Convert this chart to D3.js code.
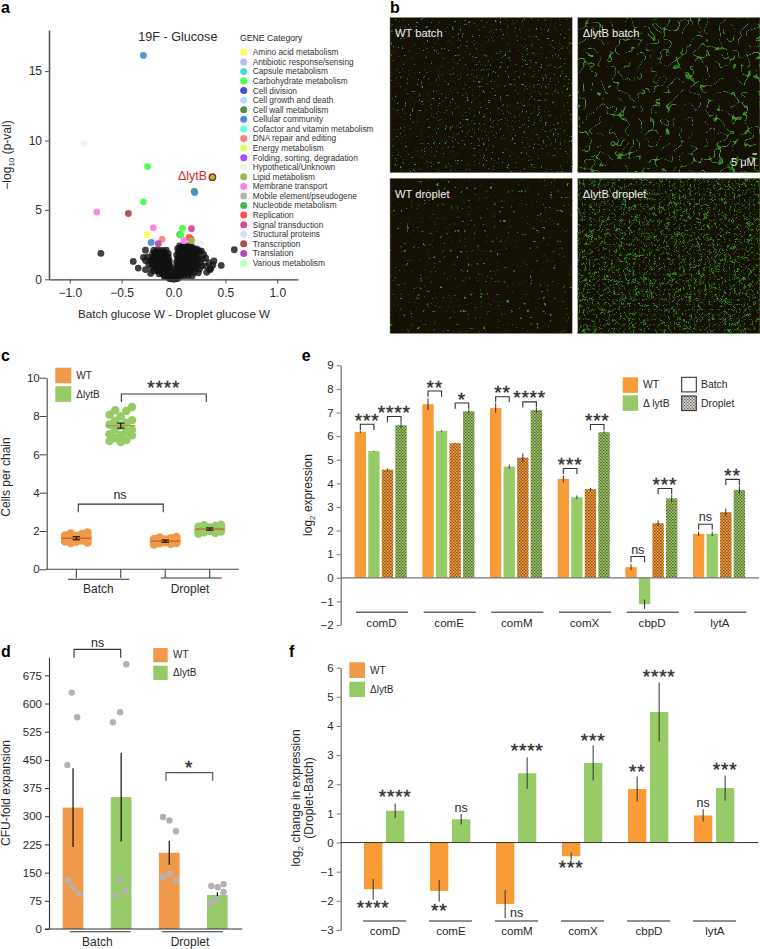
<!DOCTYPE html>
<html lang="en">
  <head>
    <meta charset="UTF-8" />
    <title>Droplet culture of WT and lytB pneumococcus</title>
    <script src="https://d3js.org/d3.v7.min.js"></script>
    <style>
      html, body { margin: 0; padding: 0; background: #fff; }
      svg { display: block; }
      text { font-family: "Liberation Sans", Arial, sans-serif; fill: #2a2a2a; }
      .panel { font-size: 16px; font-weight: bold; fill: #000; }
      .tick text { font-size: 11.5px; fill: #2a2a2a; }
    </style>
  </head>
  <body>
    <svg id="fig" width="760" height="949"></svg>

    <script>
      const ORANGE = "#f0994a";
      const BRIGHT = "#f99b36";
      const GREEN = "#97cb67";

      // panel a
      const categoryNames = ["Amino acid metabolism", "Antibiotic response/sensing", "Capsule metabolism", "Carbohydrate metabolism", "Cell division", "Cell growth and death", "Cell wall metabolism", "Cellular community", "Cofactor and vitamin metabolism", "DNA repair and editing", "Energy metabolism", "Folding, sorting, degradation", "Hypothetical/Unknown", "Lipid metabolism", "Membrane transport", "Mobile element/pseudogene", "Nucleotide metabolism", "Replication", "Signal transduction", "Structural proteins", "Transcription", "Translation", "Various metabolism"];
      const categoryColors = ["#ffff4d", "#b9b9f5", "#4fd8d8", "#4dfb4d", "#4a4ad6", "#b8dcff", "#4f8f4f", "#4a8fd8", "#5cffdf", "#ff8080", "#d9ff66", "#a64dff", "#f0f2f2", "#9ab84d", "#ff80e6", "#b4b4b4", "#4db34d", "#ff4d4d", "#d14d99", "#dcdcfa", "#ad4d4d", "#b34db3", "#b8ffb8"];
      // [diff, -log10 p, category]
      const geneHits = [
        [-0.29, 16.13, "Cellular community"], [-0.865, 9.78, "Hypothetical/Unknown"],
        [-0.25, 8.12, "Carbohydrate metabolism"], [0.2, 6.33, "Cell wall metabolism"],
        [0.205, 6.25, "Cellular community"], [-0.29, 5.58, "Carbohydrate metabolism"],
        [-0.74, 4.84, "Membrane transport"], [-0.435, 4.74, "Transcription"],
        [-0.195, 3.71, "Membrane transport"], [-0.256, 3.21, "Amino acid metabolism"],
        [-0.18, 2.78, "Hypothetical/Unknown"], [-0.215, 2.66, "Cellular community"],
        [-0.11, 2.88, "DNA repair and editing"], [-0.147, 2.56, "Translation"],
        [0.22, 2.7, "Hypothetical/Unknown"], [0.26, 2.59, "Hypothetical/Unknown"],
        [0.087, 3.67, "Carbohydrate metabolism"], [0.173, 3.64, "Signal transduction"],
        [0.06, 3.23, "Nucleotide metabolism"], [0.07, 3.2, "Carbohydrate metabolism"],
        [0.15, 3.02, "Replication"], [0.17, 2.9, "Replication"],
        [0.1, 2.78, "Membrane transport"], [0.173, 2.78, "Lipid metabolism"]
      ];
      const lytbPoint = [0.375, 7.36];
      const otherGenes = [
        [-0.7, 1.87], [0.586, 2.13], [0.46, 1.0], [0.39, 1.32], [0.38, 1.03], [-0.388, 1.29], [-0.34, 0.81],
        [-0.27, 2.1], [-0.19, 2.1], [-0.15, 2.12], [-0.11, 2.08], [-0.07, 2.1],
        [-0.2, 1.85], [-0.16, 1.87], [-0.12, 1.83], [-0.08, 1.86], [-0.05, 1.84],
        [-0.29, 1.58], [-0.25, 1.62], [-0.2, 1.6], [-0.16, 1.58], [-0.12, 1.62], [-0.09, 1.6], [-0.05, 1.57],
        [-0.27, 1.35], [-0.22, 1.33], [-0.18, 1.37], [-0.14, 1.35], [-0.1, 1.33], [-0.06, 1.36], [-0.04, 1.34],
        [-0.24, 1.1], [-0.19, 1.12], [-0.15, 1.08], [-0.11, 1.1], [-0.07, 1.12], [-0.04, 1.09],
        [-0.21, 0.85], [-0.17, 0.87], [-0.13, 0.83], [-0.09, 0.85], [-0.05, 0.86], [-0.03, 0.84],
        [-0.27, 0.7], [-0.19, 0.6], [-0.15, 0.62], [-0.11, 0.58], [-0.07, 0.6], [-0.04, 0.61], [-0.02, 0.59],
        [-0.22, 0.42], [-0.14, 0.4], [-0.1, 0.38], [-0.06, 0.4], [-0.03, 0.41],
        [-0.09, 0.2], [-0.06, 0.22], [-0.03, 0.18], [-0.01, 0.2],
        [-0.04, 0.05], [-0.02, 0.04], [0, 0.03], [0.02, 0.04], [0.04, 0.05],
        [0.06, 2.4], [0.1, 2.38], [0.14, 2.41], [0.18, 2.39],
        [0.04, 2.2], [0.07, 2.22], [0.11, 2.18], [0.15, 2.2], [0.19, 2.21], [0.23, 2.19], [0.27, 2.03],
        [0.05, 2.0], [0.09, 1.98], [0.13, 2.02], [0.17, 2.0], [0.21, 1.97], [0.25, 2.01], [0.29, 1.8],
        [0.03, 1.75], [0.07, 1.77], [0.11, 1.73], [0.15, 1.75], [0.19, 1.76], [0.23, 1.74], [0.31, 1.55],
        [0.04, 1.5], [0.08, 1.52], [0.12, 1.48], [0.16, 1.5], [0.2, 1.51], [0.24, 1.49], [0.28, 1.47], [0.34, 1.2],
        [0.03, 1.25], [0.06, 1.27], [0.1, 1.23], [0.14, 1.25], [0.18, 1.26], [0.22, 1.24], [0.26, 1.22],
        [0.03, 1.0], [0.07, 1.02], [0.11, 0.98], [0.15, 1.0], [0.19, 1.01], [0.23, 0.99], [0.27, 0.97], [0.31, 0.95],
        [0.02, 0.75], [0.05, 0.77], [0.09, 0.73], [0.13, 0.75], [0.17, 0.76], [0.21, 0.74], [0.25, 0.72], [0.36, 0.77],
        [0.02, 0.5], [0.05, 0.52], [0.08, 0.48], [0.12, 0.5], [0.16, 0.51], [0.2, 0.49], [0.24, 0.47], [0.32, 0.5], [0.35, 0.68],
        [0.01, 0.25], [0.04, 0.27], [0.07, 0.23], [0.1, 0.25], [0.14, 0.26], [0.18, 0.24],
        [-0.17, 1.97], [-0.13, 1.97], [-0.09, 1.97], [-0.18, 1.72], [-0.14, 1.73], [-0.1, 1.72], [-0.07, 1.71],
        [-0.2, 1.47], [-0.16, 1.48], [-0.12, 1.47], [-0.08, 1.46], [-0.21, 1.22], [-0.17, 1.23], [-0.13, 1.22], [-0.09, 1.21], [-0.05, 1.22],
        [-0.19, 0.98], [-0.15, 0.97], [-0.11, 0.98], [-0.07, 0.99], [-0.04, 0.97], [-0.16, 0.73], [-0.12, 0.72], [-0.08, 0.73], [-0.05, 0.72],
        [-0.12, 0.5], [-0.08, 0.5], [-0.05, 0.5], [-0.05, 0.31], [-0.08, 0.3], [-0.02, 0.3],
        [0.08, 2.3], [0.12, 2.3], [0.16, 2.3], [0.06, 2.1], [0.1, 2.1], [0.14, 2.1], [0.18, 2.1], [0.22, 2.1],
        [0.05, 1.87], [0.09, 1.87], [0.13, 1.87], [0.17, 1.87], [0.21, 1.87], [0.06, 1.62], [0.1, 1.62], [0.14, 1.62], [0.18, 1.62], [0.22, 1.62],
        [0.05, 1.37], [0.09, 1.37], [0.13, 1.37], [0.17, 1.37], [0.21, 1.37], [0.05, 1.12], [0.09, 1.12], [0.13, 1.12], [0.17, 1.12], [0.21, 1.12],
        [0.04, 0.87], [0.08, 0.87], [0.12, 0.87], [0.16, 0.87], [0.2, 0.87], [0.04, 0.62], [0.08, 0.62], [0.12, 0.62], [0.16, 0.62],
        [0.03, 0.38], [0.06, 0.38], [0.1, 0.38], [0.14, 0.38]
      ];
      const volcanoXTicks = [-1, -0.5, 0, 0.5, 1];
      const volcanoYTicks = [0, 5, 10, 15];

      // panel b
      const micrographs = ["WT batch", "\u0394lytB batch", "WT droplet", "\u0394lytB droplet"];

      // panel c
      const chainGroups = ["WT batch", "lytB batch", "WT droplet", "lytB droplet"];
      const chainWtBatch = [1.92, 1.86, 1.84, 1.76, 1.74, 1.7, 1.66, 1.64, 1.62, 1.6, 1.56, 1.54, 1.5, 1.46, 1.44, 1.4, 1.38];
      const chainLytbBatch = [8.47, 8.3, 8.27, 8.07, 7.98, 7.78, 7.75, 7.65, 7.55, 7.5, 7.3, 7.3, 7.2, 7.05, 7.0, 7.0, 6.85, 6.75, 6.7, 6.65];
      const chainWtDroplet = [1.68, 1.66, 1.62, 1.58, 1.55, 1.52, 1.48, 1.46, 1.44, 1.42, 1.38, 1.36, 1.33, 1.3];
      const chainLytbDroplet = [2.32, 2.3, 2.26, 2.22, 2.18, 2.14, 2.1, 2.08, 2.04, 2.0, 1.97, 1.94, 1.9, 1.86];
      const chainMeans = [1.62, 7.5, 1.47, 2.1];
      const chainErrors = [0.08, 0.13, 0.06, 0.06];
      const chainTicks = [0, 2, 4, 6, 8, 10];

      // panel d
      const cfuGroups = ["WT batch", "lytB batch", "WT droplet", "lytB droplet"];
      const cfuMeans = [323, 351, 203, 90.5];
      const cfuErrors = [105, 118, 32, 7];
      const cfuWtBatch = [629, 563.6, 436.7, 129.6, 111.8, 93.2];
      const cfuLytbBatch = [704.7, 577, 550, 130.5, 102, 89.6];
      const cfuWtDroplet = [298, 289, 260, 147, 137, 129];
      const cfuLytbDroplet = [114.5, 111, 119, 98.5, 79, 70];
      // sideways scatter of the six replicates, as share of the bar width
      const cfuScatter = [
        [-0.13, 0.4, -0.55, -0.5, 0, 0.6],
        [0.5, -0.1, -0.8, -0.07, 0.5, -0.5],
        [-0.6, 0.02, 0.65, 0.02, -0.62, 0.65],
        [-0.58, 0.03, 0.6, 0.6, 0, -0.62]
      ];
      const cfuTicks = [0, 75, 150, 225, 300, 375, 450, 525, 600, 675];

      // panel e
      const genes = ["comD", "comE", "comM", "comX", "cbpD", "lytA"];
      const wtBatch = [6.18, 7.35, 7.19, 4.19, 0.45, 1.86];
      const lytbBatch = [5.36, 6.22, 4.71, 3.41, -1.12, 1.86];
      const wtDroplet = [4.58, 5.7, 5.09, 3.75, 2.31, 2.78];
      const lytbDroplet = [6.46, 7.05, 7.1, 6.16, 3.36, 3.72];
      const wtBatchErr = [0.05, 0.25, 0.2, 0.15, 0.13, 0.1];
      const lytbBatchErr = [0.02, 0.03, 0.08, 0.08, 0.2, 0.1];
      const wtDropletErr = [0.04, 0.02, 0.18, 0.06, 0.12, 0.15];
      const lytbDropletErr = [0.12, 0.08, 0.1, 0.05, 0.15, 0.18];
      // [gene, first bar of the pair, height, mark]
      const exprBrackets = [
        ["comD", 0, 6.5, "***"], ["comD", 2, 6.83, "****"],
        ["comE", 0, 7.91, "**"], ["comE", 2, 7.4, "*"],
        ["comM", 0, 7.67, "**"], ["comM", 2, 7.45, "****"],
        ["comX", 0, 4.63, "***"], ["comX", 2, 6.49, "***"],
        ["cbpD", 0, 0.9, "ns"], ["cbpD", 2, 3.78, "***"],
        ["lytA", 0, 2.27, "ns"], ["lytA", 2, 4.17, "**"]
      ];
      const exprTicks = [-2, -1, 0, 1, 2, 3, 4, 5, 6, 7, 8, 9];

      // panel f
      const changeWt = [-1.6, -1.66, -2.11, -0.47, 1.84, 0.93];
      const changeLytb = [1.09, 0.8, 2.38, 2.73, 4.48, 1.87];
      const changeWtErr = [0.355, 0.37, 0.48, 0.13, 0.43, 0.21];
      const changeLytbErr = [0.25, 0.18, 0.54, 0.6, 1.01, 0.43];
      const changeWtMarks = ["****", "**", "ns", "***", "**", "ns"];
      const changeLytbMarks = ["****", "ns", "****", "***", "****", "***"];
      const changeWtMarkY = [-2.1, -2.21, -2.55, -0.72, 2.59, 1.23];
      const changeLytbMarkY = [1.71, 1.05, 3.29, 3.64, 5.83, 2.66];
      const changeTicks = [-3, -2, -1, 0, 1, 2, 3, 4, 5, 6];

      const svg = d3.select("#fig");
      const defs = svg.append("defs");

      // dotted fill of the droplet bars
      const dots = defs.append("pattern").attr("id", "dots")
        .attr("width", 3).attr("height", 3).attr("patternUnits", "userSpaceOnUse");
      dots.append("rect").attr("x", 0).attr("y", 0).attr("width", 1.5).attr("height", 1.2).attr("fill", "#3a2a14").attr("opacity", 0.7);
      dots.append("rect").attr("x", 1.5).attr("y", 1.5).attr("width", 1.5).attr("height", 1.2).attr("fill", "#3a2a14").attr("opacity", 0.7);

      function label(x, y, str, size, anchor, color) {
        return svg.append("text").attr("x", x).attr("y", y)
          .attr("text-anchor", anchor || "start")
          .style("font-size", size + "px")
          .style("fill", color || "#2a2a2a")
          .text(str);
      }

      function panelLetter(x, y, str) {
        svg.append("text").attr("class", "panel").attr("x", x).attr("y", y).text(str);
      }

      // star marks sit high in the font, so y here is the middle of the stars
      function stars(x, y, str) {
        if (str === "ns") return label(x, y + 4, str, 12.5, "middle");
        return label(x, y + 10.5, str, 19, "middle")
          .style("letter-spacing", "0.8px")
          .style("stroke", "#2a2a2a").style("stroke-width", "0.35px");
      }

      function styleAxis(g, color, width) {
        g.select(".domain").attr("stroke", color).attr("stroke-width", width);
        g.selectAll(".tick line").attr("stroke", color).attr("stroke-width", 1);
      }

      function leftAxis(x, scale, ticks, color, width, fmt) {
        const g = svg.append("g").attr("transform", `translate(${x},0)`)
          .call(d3.axisLeft(scale).tickValues(ticks).tickSize(4).tickSizeOuter(0).tickFormat(fmt || d3.format("d")));
        styleAxis(g, color, width);
        g.selectAll(".tick text").attr("x", -7);
        return g;
      }

      function hline(x1, x2, y, color, width) {
        svg.append("line").attr("x1", x1).attr("x2", x2).attr("y1", y).attr("y2", y)
          .attr("stroke", color).attr("stroke-width", width);
      }

      function vline(x, y1, y2, color, width) {
        svg.append("line").attr("x1", x).attr("x2", x).attr("y1", y1).attr("y2", y2)
          .attr("stroke", color).attr("stroke-width", width);
      }

      function bracket(x1, x2, y, drop, color) {
        svg.append("path").attr("d", `M${x1},${y + drop}V${y}H${x2}V${y + drop}`)
          .attr("fill", "none").attr("stroke", color || "#333").attr("stroke-width", 1.1);
      }

      function swatch(x, y, w, h, fill) {
        return svg.append("rect").attr("x", x).attr("y", y).attr("width", w).attr("height", h).attr("fill", fill);
      }

      function rotated(x, y, parts) {
        // parts: [text, isSubscript]
        const t = svg.append("text").attr("transform", `translate(${x},${y}) rotate(-90)`)
          .attr("text-anchor", "middle").style("font-size", "12px");
        parts.forEach(([s, sub]) => {
          const span = t.append("tspan").text(s);
          if (sub) span.style("font-size", "8px").attr("dy", 3);
          else if (t.selectAll("tspan").size() > 1) span.attr("dy", -3);
        });
      }

      /* ---------- a: volcano ---------- */
      panelLetter(1, 13, "a");
      const xA = d3.scaleLinear().domain([-1.2, 1.2]).range([49, 298]);
      const yA = d3.scaleLinear().domain([0, 17.96]).range([279.3, 30]);
      const colorA = d3.scaleOrdinal().domain(categoryNames).range(categoryColors);

      svg.append("g").selectAll("circle").data(otherGenes).enter().append("circle")
        .attr("cx", (d) => xA(d[0])).attr("cy", (d) => yA(d[1])).attr("r", 3.4)
        .attr("fill", "#111").attr("opacity", 0.8);
      svg.append("g").selectAll("circle").data(geneHits).enter().append("circle")
        .attr("cx", (d) => xA(d[0])).attr("cy", (d) => yA(d[1])).attr("r", 3.4)
        .attr("fill", (d) => colorA(d[2])).attr("opacity", 0.95);
      svg.append("circle").attr("cx", xA(lytbPoint[0])).attr("cy", yA(lytbPoint[1])).attr("r", 3.2)
        .attr("fill", "#7fd13f").attr("stroke", "#b5171b").attr("stroke-width", 1.4);

      const axA = svg.append("g").attr("transform", "translate(0,279.3)")
        .call(d3.axisBottom(xA).tickValues(volcanoXTicks).tickSize(4).tickSizeOuter(0).tickFormat(d3.format(".1f")));
      styleAxis(axA, "#444", 1.2);
      axA.selectAll(".tick text").style("font-size", "12px").attr("y", 9);
      const ayA = leftAxis(49, yA, volcanoYTicks, "#555", 1.6);
      ayA.selectAll(".tick text").style("font-size", "12px");

      label(138.3, 40.7, "19F - Glucose", 12.6);
      label(178, 180, "\u0394lytB", 12.4, "start", "#d62a2c");
      label(174, 317.7, "Batch glucose W - Droplet glucose W", 11.6, "middle");
      rotated(11, 155, [["\u2212log", false], ["10", true], [" (p-val)", false]]);

      label(240, 40.7, "GENE Category", 8.7);
      const rowA = d3.scalePoint().domain(categoryNames).range([52.3, 263]);
      svg.append("g").selectAll("circle").data(categoryNames).enter().append("circle")
        .attr("cx", 243.7).attr("cy", (d) => rowA(d)).attr("r", 3.5).attr("fill", (d) => colorA(d));
      svg.append("g").selectAll("text").data(categoryNames).enter().append("text")
        .attr("x", 252.7).attr("y", (d) => rowA(d) + 2.9).style("font-size", "8.3px").style("fill", "#333").text((d) => d);

      /* ---------- b: micrographs, textures from svg turbulence ---------- */
      panelLetter(390, 13, "b");

      function newFilter(id) {
        return defs.append("filter").attr("id", id).attr("x", 0).attr("y", 0).attr("width", 1).attr("height", 1)
          .attr("color-interpolation-filters", "sRGB");
      }

      function specks(id, freq, seed, gain, cut, rgb) {
        const f = newFilter(id);
        f.append("feTurbulence").attr("type", "fractalNoise").attr("baseFrequency", freq)
          .attr("numOctaves", 2).attr("seed", seed);
        f.append("feColorMatrix").attr("type", "matrix")
          .attr("values", `0 0 0 0 ${rgb[0]} 0 0 0 0 ${rgb[1]} 0 0 0 0 ${rgb[2]} ${gain} 0 0 0 ${-cut}`);
        f.append("feGaussianBlur").attr("stdDeviation", 0.35);
      }

      // one thin level line of a smooth noise gives the curved cell chains
      function chains(id, freq, seed, steps, maskFreq, maskCut, rgb) {
        const f = newFilter(id);
        const table = d3.range(steps).map((i) => (i === Math.round(steps * 0.5) ? 1 : 0)).join(" ");
        f.append("feTurbulence").attr("type", "fractalNoise").attr("baseFrequency", freq)
          .attr("numOctaves", 2).attr("seed", seed).attr("result", "n");
        f.append("feColorMatrix").attr("in", "n").attr("type", "matrix")
          .attr("values", `0 0 0 0 ${rgb[0]} 0 0 0 0 ${rgb[1]} 0 0 0 0 ${rgb[2]} 1 0 0 0 0`).attr("result", "a");
        const ct = f.append("feComponentTransfer").attr("in", "a").attr("result", "lines");
        ct.append("feFuncA").attr("type", "table").attr("tableValues", table);
        f.append("feTurbulence").attr("type", "fractalNoise").attr("baseFrequency", maskFreq)
          .attr("numOctaves", 1).attr("seed", seed + 7).attr("result", "m");
        f.append("feColorMatrix").attr("in", "m").attr("type", "matrix")
          .attr("values", `0 0 0 0 0 0 0 0 0 0 0 0 0 0 0 9 0 0 0 ${-maskCut}`).attr("result", "mask");
        f.append("feComposite").attr("in", "lines").attr("in2", "mask").attr("operator", "in").attr("result", "cut");
        f.append("feGaussianBlur").attr("in", "cut").attr("stdDeviation", 0.3);
      }

      const DIMGREEN = [0.2, 0.62, 0.14];
      specks("wtb", 0.42, 4, 9, 6.0, DIMGREEN);
      specks("wtd", 0.3, 11, 9, 6.3, DIMGREEN);
      specks("redb", 0.3, 21, 9, 7.0, [0.55, 0.14, 0.08]);
      chains("lyb", 0.075, 5, 44, 0.12, 3.3, [0.28, 0.68, 0.2]);
      chains("lyd", 0.2, 9, 22, 0.3, 3.3, [0.22, 0.6, 0.16]);

      const imgX = d3.scaleBand().domain([0, 1]).range([390, 760]).paddingInner(0.03);
      const imgY = d3.scaleBand().domain([0, 1]).range([17.5, 333.5]).paddingInner(0.035);
      const imgFilters = [["wtb", "redb"], ["lyb"], ["wtd"], ["lyd"]];
      micrographs.forEach((name, i) => {
        const x = imgX(i % 2), y = imgY(i < 2 ? 0 : 1);
        swatch(x, y, imgX.bandwidth(), imgY.bandwidth(), "#151005").attr("stroke", "#8a8a80").attr("stroke-width", 0.5);
        imgFilters[i].forEach((f) => {
          swatch(x, y, imgX.bandwidth(), imgY.bandwidth(), "#000").attr("filter", `url(#${f})`);
        });
        label(x + 5, y + 19.5, name, 11.2, "start", "#eeeeee");
      });
      hline(752.5, 757, 154, "#eee", 1.4);
      label(731, 166, "5 \u03bcM", 11, "start", "#eeeeee");

      /* ---------- c: cells per chain ---------- */
      panelLetter(1, 361, "c");
      const xC = d3.scalePoint().domain(chainGroups).range([76.3, 209.7]);
      const yC = d3.scaleLinear().domain([0, 10]).range([569.3, 377.7]);
      const chainSets = [chainWtBatch, chainLytbBatch, chainWtDroplet, chainLytbDroplet];
      const columnStep = 5.6;
      const columnOrder = [2, -1, 1, -2, 0];

      chainGroups.forEach((group, i) => {
        const fill = i % 2 ? GREEN : ORANGE;
        svg.append("g").selectAll("circle").data(chainSets[i]).enter().append("circle")
          .attr("cx", (d, k) => xC(group) + columnOrder[k % 5] * columnStep)
          .attr("cy", (d) => yC(d)).attr("r", 4.3).attr("fill", fill);
        const cx = xC(group), my = yC(chainMeans[i]);
        hline(cx - 14.5, cx + 14.5, my, i === 1 ? "#b68f52" : "#d4561f", 1.2);
        const top = yC(chainMeans[i] + chainErrors[i]), bot = yC(chainMeans[i] - chainErrors[i]);
        vline(cx, top, bot, "#111", 1.1);
        hline(cx - 3.7, cx + 3.7, top, "#111", 1.1);
        hline(cx - 3.7, cx + 3.7, bot, "#111", 1.1);
      });

      leftAxis(46.7, yC, chainTicks, "#444", 1.1).selectAll(".tick line").attr("x2", -7);
      hline(46.7, 238.7, 569.3, "#444", 1.1);
      chainGroups.forEach((g) => vline(xC(g), 569.3, 578, "#444", 1.1));
      hline(68, 129.3, 579.3, "#333", 1.1);
      hline(160.7, 221.7, 578, "#333", 1.1);
      label(98.3, 593.3, "Batch", 12, "middle");
      label(190, 593.3, "Droplet", 12, "middle");
      rotated(10, 477, [["Cells per chain", false]]);

      bracket(xC(chainGroups[0]) + 2, xC(chainGroups[2]) - 2, yC(3.4), 8);
      stars(120, yC(3.4) - 9.5, "ns");
      bracket(xC(chainGroups[1]) + 0.6, xC(chainGroups[3]) - 3.4, yC(9.15), 8);
      stars(163.7, yC(9.15) - 10, "****");

      swatch(55.3, 367.7, 16, 15.6, ORANGE);
      swatch(55.3, 386.3, 16, 15.6, GREEN);
      label(76.3, 378.7, "WT", 10);
      label(76.3, 397.7, "\u0394lytB", 10);

      /* ---------- d: CFU-fold expansion ---------- */
      panelLetter(1, 657, "d");
      const xD = d3.scaleBand().domain(cfuGroups).range([62.7, 227.7]).paddingInner(0.57);
      const yD = d3.scaleLinear().domain([0, 723]).range([929, 657.3]);
      const cfuSets = [cfuWtBatch, cfuLytbBatch, cfuWtDroplet, cfuLytbDroplet];

      svg.append("g").selectAll("rect").data(cfuGroups).enter().append("rect")
        .attr("x", (d) => xD(d)).attr("width", xD.bandwidth())
        .attr("y", (d, i) => yD(cfuMeans[i])).attr("height", (d, i) => yD(0) - yD(cfuMeans[i]))
        .attr("fill", (d, i) => (i % 2 ? GREEN : ORANGE));
      cfuGroups.forEach((g, i) => {
        const cx = xD(g) + xD.bandwidth() / 2;
        vline(cx, yD(cfuMeans[i] + cfuErrors[i]), yD(cfuMeans[i] - cfuErrors[i]), "#111", 1.2);
        svg.append("g").selectAll("circle").data(cfuSets[i]).enter().append("circle")
          .attr("cx", (d, k) => cx + cfuScatter[i][k] * xD.bandwidth() / 2)
          .attr("cy", (d) => yD(d)).attr("r", 3.2).attr("fill", "#b3b3b3");
      });
      leftAxis(49, yD, cfuTicks, "#333", 1.1);
      hline(45, 242.3, 929, "#333", 1.1);
      hline(70, 130.7, 931.7, "#333", 1.1);
      hline(162, 222.7, 931.7, "#333", 1.1);
      label(97.3, 946, "Batch", 12, "middle");
      label(190, 946, "Droplet", 12, "middle");
      rotated(10, 793, [["CFU-fold expansion", false]]);

      bracket(74, 120.7, yD(744), 8.4);
      label(97.7, 646.7, "ns", 12.5, "middle");
      bracket(166, 212.7, yD(416), 8, "#555");
      stars(189, 763, "*");

      swatch(153.3, 648, 14.4, 14.3, ORANGE);
      swatch(153.3, 665.7, 14.4, 14.3, GREEN);
      label(173, 658, "WT", 10);
      label(173, 675.7, "\u0394lytB", 10);

      /* ---------- e: log2 expression ---------- */
      panelLetter(301.7, 361, "e");
      const xE = d3.scaleBand().domain(genes).range([354.7, 745]).paddingInner(0.2316);
      const barsE = d3.scaleBand().domain([0, 1, 2, 3]).range([0, xE.bandwidth()]).paddingInner(0.167);
      const yE = d3.scaleLinear().domain([-2, 9]).range([625, 365.3]);
      const exprSets = [wtBatch, lytbBatch, wtDroplet, lytbDroplet];
      const exprErrs = [wtBatchErr, lytbBatchErr, wtDropletErr, lytbDropletErr];

      genes.forEach((gene, g) => {
        exprSets.forEach((set, b) => {
          const v = set[g];
          const x = xE(gene) + barsE(b);
          const r = swatch(x, Math.min(yE(v), yE(0)), barsE.bandwidth(), Math.abs(yE(v) - yE(0)), b % 2 ? GREEN : BRIGHT);
          if (b > 1) swatch(x, +r.attr("y"), barsE.bandwidth(), +r.attr("height"), "url(#dots)");
          const dir = v < 0 ? -1 : 1;
          vline(x + barsE.bandwidth() / 2, yE(v - dir * exprErrs[b][g]), yE(v + dir * exprErrs[b][g]), "#333", 1);
        });
        const x0 = xE(gene), cx = x0 + xE.bandwidth() / 2;
        hline(x0 + 1.3, x0 + xE.bandwidth() + 1.3, 612.3, "#666", 1.4);
        label(cx + 0.8, 627.3, gene, 11.6, "middle");
      });
      exprBrackets.forEach(([gene, first, h, mark]) => {
        const x1 = xE(gene) + barsE(first) + barsE.bandwidth() / 2;
        const x2 = x1 + barsE.step();
        bracket(x1, x2, yE(h), 5.6);
        stars((x1 + x2) / 2, yE(h) + (mark === "ns" ? -7 : -8), mark);
      });
      leftAxis(340.7, yE, exprTicks, "#777", 1.3);
      hline(340.7, 759, yE(0), "#777", 1.2);
      rotated(312, 495, [["log", false], ["2", true], [" expression", false]]);

      swatch(622.7, 377.3, 15.4, 15.6, BRIGHT);
      swatch(622.7, 395.3, 15.4, 15.6, GREEN);
      label(643, 388.3, "WT", 10.4);
      label(643, 406.7, "\u0394 lytB", 10.4);
      swatch(681.7, 377.3, 14.6, 14.6, "#fff").attr("stroke", "#222").attr("stroke-width", 1);
      swatch(681.7, 396, 14.6, 14.6, "#ddd").attr("stroke", "#222").attr("stroke-width", 1);
      swatch(681.7, 396, 14.6, 14.6, "url(#dots)");
      label(701, 388.3, "Batch", 10.4);
      label(701, 406.7, "Droplet", 10.4);

      /* ---------- f: change in expression ---------- */
      panelLetter(289, 657, "f");
      const xF = d3.scaleBand().domain(genes).range([364, 734.3]).paddingInner(0.389);
      const barsF = d3.scaleBand().domain([0, 1]).range([0, xF.bandwidth()]).paddingInner(0.167);
      const yF = d3.scaleLinear().domain([-3, 6]).range([930, 667.7]);

      genes.forEach((gene, g) => {
        [[changeWt, changeWtErr, changeWtMarks, changeWtMarkY, BRIGHT], [changeLytb, changeLytbErr, changeLytbMarks, changeLytbMarkY, GREEN]]
          .forEach(([vals, errs, marks, markY, fill], b) => {
            const v = vals[g];
            const x = xF(gene) + barsF(b);
            const cx = x + barsF.bandwidth() / 2;
            swatch(x, Math.min(yF(v), yF(0)), barsF.bandwidth(), Math.abs(yF(v) - yF(0)), fill);
            vline(cx, yF(v + errs[g]), yF(v - errs[g]), "#333", 1);
            if (marks[g] === "ns") {
              const shift = gene === "comM" ? 11.5 : 0;
              label(cx + shift, yF(markY[g]), "ns", 12.5, "middle");
            } else {
              stars(cx, yF(markY[g]), marks[g]);
            }
          });
        const x0 = xF(gene);
        hline(x0 - 1, x0 + xF.bandwidth() + 1.7, 921, "#222", 1.2);
        label(x0 + xF.bandwidth() / 2 + 0.8, 935, gene, 11.6, "middle");
      });
      leftAxis(340.7, yF, changeTicks, "#777", 1.3);
      hline(340.7, 758.3, yF(0), "#333", 1);
      rotated(300, 798, [["log", false], ["2", true], [" change in expression", false]]);
      rotated(313, 798, [["(Droplet-Batch)", false]]);

      swatch(349.3, 662.3, 15.7, 15.7, ORANGE);
      swatch(349.3, 681.7, 15.7, 15.4, GREEN);
      label(370, 674.3, "WT", 10);
      label(370, 692.7, "\u0394lytB", 10);
    </script>
  </body>
</html>
